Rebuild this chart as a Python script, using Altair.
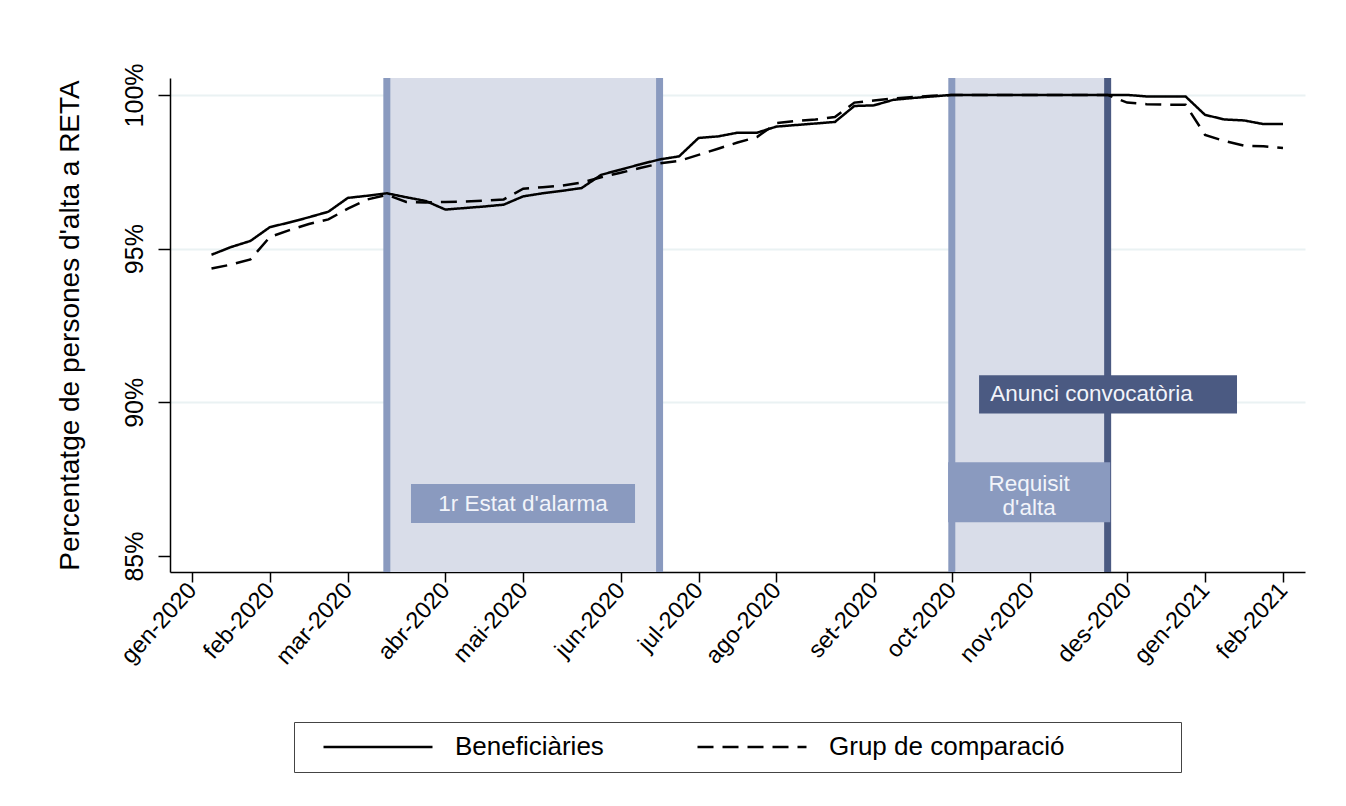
import altair as alt
import pandas as pd

# ---------------- data ----------------
weeks = list(range(1, 57))
beneficiaries = [
    94.8, 95.05, 95.25, 95.7, 95.85, 96.02, 96.2, 96.65, 96.72, 96.8,
    96.67, 96.55, 96.27, 96.32, 96.37, 96.43, 96.7, 96.8, 96.88, 96.97,
    97.4, 97.57, 97.74, 97.9, 98.0, 98.6, 98.65, 98.77, 98.77, 98.97,
    99.02, 99.07, 99.12, 99.64, 99.66, 99.84, 99.9, 99.95, 100, 100,
    100, 100, 100, 100, 100, 100, 100, 100, 99.95, 99.95,
    99.95, 99.35, 99.2, 99.17, 99.05, 99.05,
]
comparison = [
    94.35, 94.48, 94.65, 95.38, 95.6, 95.8, 95.95, 96.3, 96.6, 96.75,
    96.52, 96.5, 96.52, 96.53, 96.56, 96.6, 96.95, 97.0, 97.05, 97.15,
    97.32, 97.47, 97.62, 97.77, 97.85, 98.05, 98.25, 98.45, 98.63, 99.08,
    99.15, 99.2, 99.28, 99.75, 99.82, 99.88, 99.93, 99.97, 100, 100,
    100, 100, 100, 100, 100, 100, 100, 99.75, 99.7, 99.68,
    99.68, 98.7, 98.5, 98.35, 98.33, 98.27,
]
series_names = ["Beneficiàries", "Grup de comparació"]

tick_weeks = [0, 4, 8, 13, 17, 22, 26, 30, 35, 39, 43, 48, 52, 56]
tick_labels = ["gen-2020", "feb-2020", "mar-2020", "abr-2020", "mai-2020",
               "jun-2020", "jul-2020", "ago-2020", "set-2020", "oct-2020",
               "nov-2020", "des-2020", "gen-2021", "feb-2021"]
y_ticks = [85, 90, 95, 100]

# shaded periods (weeks)
period_start = [10, 39]
period_end = [24, 47]
# vertical markers (weeks)
light_markers = [10, 24, 39]
dark_markers = [47]

# annotation boxes: label, x0, x1, y0, y1 (data units)
ann_labels = ["1r Estat d'alarma", "Requisit\nd'alta", "Anunci convocatòria"]
ann_x0 = [11.24, 38.81, 40.4]
ann_x1 = [22.74, 47.13, 53.64]
ann_y0 = [86.07, 86.10, 89.64]
ann_y1 = [87.34, 88.05, 90.88]
ann_tx = [16.99, 42.97, 40.97]
ann_ty = [86.70, 87.34, 90.26]
ann_kind = ["light", "light", "dark"]

# ---------------- styling ----------------
FONT = "Liberation Sans"
W, H = 1135, 494
X_DOM = [-1.13, 57.13]
Y_DOM = [84.48, 100.55]
FILL = "#d9dde9"
LIGHT = "#8a9abf"
DARK = "#4b5a82"

xs = alt.Scale(domain=X_DOM, nice=False, zero=False)
ys = alt.Scale(domain=Y_DOM, nice=False, zero=False)

label_expr_x = "[" + ",".join("'%s'" % t for t in tick_labels) + "][indexof([" + \
    ",".join(str(v) for v in tick_weeks) + "], datum.value)]"

line_df = pd.DataFrame({
    "week": weeks * 2,
    "value": beneficiaries + comparison,
    "series": [series_names[0]] * len(weeks) + [series_names[1]] * len(weeks),
})
periods_df = pd.DataFrame({"start": period_start, "end": period_end})
light_df = pd.DataFrame({"week": light_markers})
dark_df = pd.DataFrame({"week": dark_markers})
ann_df = pd.DataFrame({
    "label": ann_labels, "x0": ann_x0, "x1": ann_x1, "y0": ann_y0, "y1": ann_y1,
    "tx": ann_tx, "ty": ann_ty, "kind": ann_kind,
})

x_axis = alt.Axis(
    values=tick_weeks, labelExpr=label_expr_x, title=None, grid=False,
    labelAngle=-48, labelAlign="right", labelBaseline="middle",
    labelFontSize=23.5, labelFont=FONT, labelColor="black", labelPadding=4,
    labelOverlap=False, labelBound=False,
    tickSize=10, tickColor="black", tickWidth=1.5,
    domainColor="black", domainWidth=1.5,
)
y_axis = alt.Axis(
    values=y_ticks, labelExpr="datum.value + '%'",
    labelAngle=270, labelAlign="center", labelBaseline="bottom",
    labelFontSize=25, labelFont=FONT, labelColor="black", labelPadding=11,
    labelOverlap=False,
    tickSize=12, tickColor="black", tickWidth=1.5,
    domainColor="black", domainWidth=1.5,
    grid=True, gridWidth=2,
    gridColor={"condition": {"test": "datum.value === 85", "value": "rgba(0,0,0,0)"},
               "value": "#eaf2f3"},
    title="Percentatge de persones d'alta a RETA",
    titleFont=FONT, titleFontSize=28, titleFontWeight="normal", titleColor="black",
    titleAngle=270, titleBaseline="bottom", titleAlign="center",
    titleX=-86, titleY=H / 2,
)

regions = alt.Chart(periods_df).mark_rect(color=FILL).encode(
    x=alt.X("start:Q", scale=xs, axis=x_axis), x2="end:Q",
)
light_rules = alt.Chart(light_df).mark_rule(color=LIGHT, strokeWidth=7).encode(
    x=alt.X("week:Q", scale=xs, axis=x_axis),
)
dark_rules = alt.Chart(dark_df).mark_rule(color=DARK, strokeWidth=7).encode(
    x=alt.X("week:Q", scale=xs, axis=x_axis),
)
ann_boxes = alt.Chart(ann_df).mark_rect().encode(
    x=alt.X("x0:Q", scale=xs, axis=x_axis), x2="x1:Q",
    y=alt.Y("y0:Q", scale=ys, axis=y_axis), y2="y1:Q",
    color=alt.Color("kind:N", scale=alt.Scale(domain=["light", "dark"], range=[LIGHT, DARK]),
                    legend=None),
)
ann_center = alt.Chart(ann_df).transform_filter("datum.kind == 'light'").mark_text(
    font=FONT, fontSize=22.5, color="#f2f4fa", align="center", baseline="middle",
    lineBreak="\n", lineHeight=24,
).encode(
    x=alt.X("tx:Q", scale=xs, axis=x_axis), y=alt.Y("ty:Q", scale=ys, axis=y_axis),
    text="label:N",
)
ann_left = alt.Chart(ann_df).transform_filter("datum.kind == 'dark'").mark_text(
    font=FONT, fontSize=22.5, color="#f2f4fa", align="left", baseline="middle",
).encode(
    x=alt.X("tx:Q", scale=xs, axis=x_axis), y=alt.Y("ty:Q", scale=ys, axis=y_axis),
    text="label:N",
)
lines = alt.Chart(line_df).mark_line(color="black", strokeWidth=2.5).encode(
    x=alt.X("week:Q", scale=xs, axis=x_axis),
    y=alt.Y("value:Q", scale=ys, axis=y_axis),
    strokeDash=alt.StrokeDash(
        "series:N",
        scale=alt.Scale(domain=series_names, range=[[1, 0], [16, 9]]),
        sort=series_names,
        legend=alt.Legend(
            orient="none", legendX=124, legendY=644, direction="horizontal",
            columns=2, title="\u00a0", titleOrient="right", titlePadding=104,
            titleFontSize=10,
            strokeColor="#444444", fillColor="white", padding=12,
            symbolType="stroke", symbolSize=11881, symbolStrokeWidth=2.5,
            symbolStrokeColor="black", symbolOffset=16, clipHeight=26,
            labelFont=FONT, labelFontSize=26, labelColor="black",
            labelOffset=21, columnPadding=76, labelLimit=500,
        ),
    ),
)

chart = alt.layer(
    regions, light_rules, dark_rules, ann_boxes, ann_center, ann_left, lines
).properties(
    width=W, height=H, background="white",
    autosize=alt.AutoSizeParams(type="none"),
    padding={"left": 162, "top": 70, "right": 33, "bottom": 220},
).configure_view(stroke=None)

chart.save("out.html", embed_options={"renderer": "svg", "actions": False})
